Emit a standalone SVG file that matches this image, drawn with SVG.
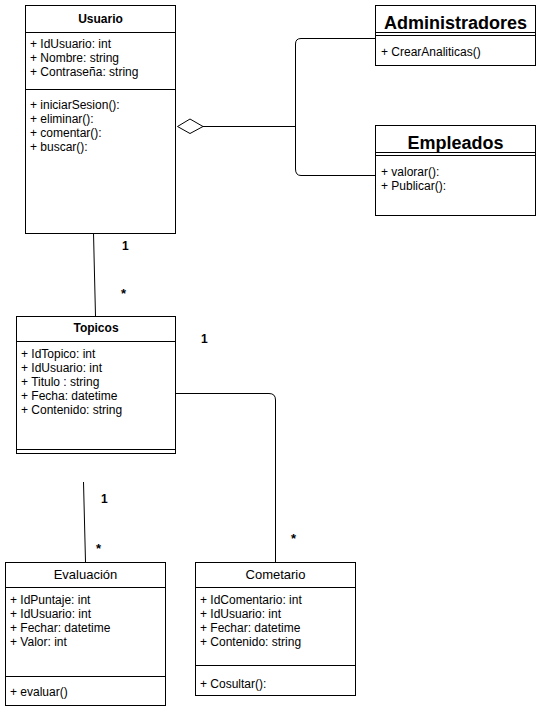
<svg xmlns="http://www.w3.org/2000/svg" width="541" height="714" viewBox="0 0 541 714">
  <style>
    .box { fill: #ffffff; stroke: #000000; stroke-width: 1; }
    .sep { stroke: #000000; stroke-width: 1; fill: none; }
    .edge { stroke: #000000; stroke-width: 1; fill: none; }
    .t { font-family: "Liberation Sans", Arial, Helvetica, sans-serif; fill: #000000; }
    .title { font-size: 12px; font-weight: bold; text-anchor: middle; }
    .titleR { font-size: 13px; text-anchor: middle; }
    .big { font-size: 18px; font-weight: bold; text-anchor: middle; }
    .m { font-size: 12px; }
    .mult { font-size: 12px; font-weight: bold; }
    .star { font-size: 13px; font-weight: bold; }
  </style>
  <rect width="541" height="714" fill="#ffffff"/>

  <!-- connectors -->
  <g id="connectors">
    <!-- aggregation Usuario <> Administradores / Empleados -->
    <polygon class="box" points="177.5,126.5 190,119 203,126.5 190,133.5"/>
    <path class="edge" d="M203 126.5 L295.5 126.5"/>
    <path class="edge" d="M375 38.5 L301 38.5 Q295.5 38.5 295.5 44 L295.5 169 Q295.5 175.5 301 175.5 L375 175.5"/>
    <!-- Usuario 1..* Topicos -->
    <path class="edge" d="M93.5 233 L95.5 316"/>
    <text class="t mult" x="122" y="250">1</text>
    <text class="t star" x="121" y="298">*</text>
    <!-- Topicos 1..* Cometario -->
    <path class="edge" d="M175 393.5 L269 393.5 Q275.5 393.5 275.5 400 L275.5 562"/>
    <text class="t mult" x="201" y="343">1</text>
    <text class="t star" x="291" y="543">*</text>
    <!-- Topicos 1..* Evaluacion -->
    <path class="edge" d="M83.5 482 L85.5 562"/>
    <text class="t mult" x="101" y="503">1</text>
    <text class="t star" x="96" y="553">*</text>
  </g>

  <!-- Usuario -->
  <g id="usuario">
    <rect class="box" x="25.5" y="5.5" width="150" height="228"/>
    <line class="sep" x1="25.5" y1="32.5" x2="175.5" y2="32.5"/>
    <line class="sep" x1="25.5" y1="89.5" x2="175.5" y2="89.5"/>
    <text class="t title" x="100.5" y="23">Usuario</text>
    <text class="t m" x="30" y="48">+ IdUsuario: int</text>
    <text class="t m" x="30" y="62">+ Nombre: string</text>
    <text class="t m" x="30" y="76">+ Contraseña: string</text>
    <text class="t m" x="30" y="109">+ iniciarSesion():</text>
    <text class="t m" x="30" y="123">+ eliminar():</text>
    <text class="t m" x="30" y="137">+ comentar():</text>
    <text class="t m" x="30" y="151">+ buscar():</text>
  </g>

  <!-- Administradores -->
  <g id="administradores">
    <rect class="box" x="375.5" y="5.5" width="160" height="60"/>
    <line class="sep" x1="375.5" y1="32.5" x2="535.5" y2="32.5"/>
    <line class="sep" x1="375.5" y1="35.5" x2="535.5" y2="35.5"/>
    <text class="t big" x="455.5" y="29">Administradores</text>
    <text class="t m" x="381" y="56">+ CrearAnaliticas()</text>
  </g>

  <!-- Empleados -->
  <g id="empleados">
    <rect class="box" x="375.5" y="125.5" width="160" height="90"/>
    <line class="sep" x1="375.5" y1="152.5" x2="535.5" y2="152.5"/>
    <line class="sep" x1="375.5" y1="155.5" x2="535.5" y2="155.5"/>
    <text class="t big" x="455.5" y="149">Empleados</text>
    <text class="t m" x="381" y="176">+ valorar():</text>
    <text class="t m" x="381" y="190">+ Publicar():</text>
  </g>

  <!-- Topicos -->
  <g id="topicos">
    <rect class="box" x="16.5" y="316.5" width="159" height="137"/>
    <line class="sep" x1="16.5" y1="341.5" x2="175.5" y2="341.5"/>
    <line class="sep" x1="16.5" y1="449.5" x2="175.5" y2="449.5"/>
    <text class="t title" x="96" y="332">Topicos</text>
    <text class="t m" x="21" y="358">+ IdTopico: int</text>
    <text class="t m" x="21" y="372">+ IdUsuario: int</text>
    <text class="t m" x="21" y="386">+ Titulo : string</text>
    <text class="t m" x="21" y="400">+ Fecha: datetime</text>
    <text class="t m" x="21" y="414">+ Contenido: string</text>
  </g>

  <!-- Evaluacion -->
  <g id="evaluacion">
    <rect class="box" x="5.5" y="562.5" width="160" height="143"/>
    <line class="sep" x1="5.5" y1="587.5" x2="165.5" y2="587.5"/>
    <line class="sep" x1="5.5" y1="676.5" x2="165.5" y2="676.5"/>
    <text class="t titleR" x="85.5" y="579">Evaluación</text>
    <text class="t m" x="10" y="604">+ IdPuntaje: int</text>
    <text class="t m" x="10" y="618">+ IdUsuario: int</text>
    <text class="t m" x="10" y="632">+ Fechar: datetime</text>
    <text class="t m" x="10" y="646">+ Valor: int</text>
    <text class="t m" x="10" y="696">+ evaluar()</text>
  </g>

  <!-- Cometario -->
  <g id="cometario">
    <rect class="box" x="195.5" y="562.5" width="160" height="133"/>
    <line class="sep" x1="195.5" y1="587.5" x2="355.5" y2="587.5"/>
    <line class="sep" x1="195.5" y1="665.5" x2="355.5" y2="665.5"/>
    <text class="t titleR" x="275.5" y="579">Cometario</text>
    <text class="t m" x="200" y="604">+ IdComentario: int</text>
    <text class="t m" x="200" y="618">+ IdUsuario: int</text>
    <text class="t m" x="200" y="632">+ Fechar: datetime</text>
    <text class="t m" x="200" y="646">+ Contenido: string</text>
    <text class="t m" x="200" y="688">+ Cosultar():</text>
  </g>
</svg>
